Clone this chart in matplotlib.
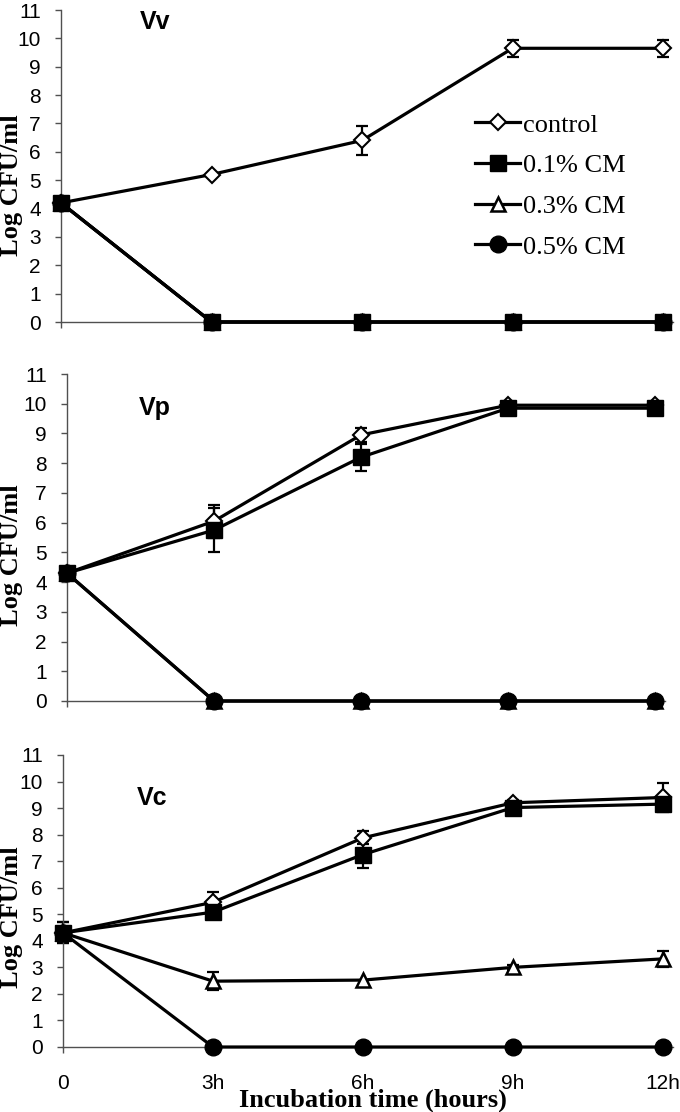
import matplotlib
matplotlib.use('Agg')
import matplotlib.pyplot as plt
from matplotlib.lines import Line2D

# Sampling times and labels
times = [0, 3, 6, 9, 12]
time_labels = ['0', '3h', '6h', '9h', '12h']
series_names = ['control', '0.1% CM', '0.3% CM', '0.5% CM']

# Vv
vv_control = [4.2, 5.2, 6.4, 9.65, 9.65]
vv_control_err = [0, 0, 0.5, 0.3, 0.3]
vv_cm01 = [4.2, 0, 0, 0, 0]
vv_cm01_err = [0, 0, 0, 0, 0]
vv_cm03 = [4.2, 0, 0, 0, 0]
vv_cm03_err = [0, 0, 0, 0, 0]
vv_cm05 = [4.2, 0, 0, 0, 0]
vv_cm05_err = [0, 0, 0, 0, 0]

# Vp
vp_control = [4.3, 6.05, 8.95, 9.95, 9.95]
vp_control_err = [0, 0.55, 0.25, 0, 0]
vp_cm01 = [4.3, 5.75, 8.2, 9.85, 9.85]
vp_cm01_err = [0, 0.75, 0.45, 0, 0]
vp_cm03 = [4.3, 0, 0, 0, 0]
vp_cm03_err = [0, 0, 0, 0, 0]
vp_cm05 = [4.3, 0, 0, 0, 0]
vp_cm05_err = [0, 0, 0, 0, 0]

# Vc
vc_control = [4.3, 5.45, 7.88, 9.2, 9.4]
vc_control_err = [0.4, 0.4, 0.25, 0.1, 0.55]
vc_cm01 = [4.3, 5.08, 7.25, 9.02, 9.15]
vc_cm01_err = [0.4, 0, 0.5, 0.1, 0.1]
vc_cm03 = [4.3, 2.48, 2.52, 3.0, 3.32]
vc_cm03_err = [0, 0.35, 0, 0.1, 0.3]
vc_cm05 = [4.3, 0, 0, 0, 0]
vc_cm05_err = [0, 0, 0, 0, 0]

W, H = 680, 1112
fig = plt.figure(figsize=(W / 100, H / 100), dpi=100)

# marker styles: control, 0.1%, 0.3%, 0.5%
styles = [
    dict(marker='D', ms=8, mfc='white', mec='black', mew=1.5),
    dict(marker='s', ms=12, mfc='black', mec='black', mew=1),
    dict(marker='^', ms=10, mfc='white', mec='black', mew=1.8),
    dict(marker='o', ms=12, mfc='black', mec='black', mew=1),
]
draw_order = [0, 2, 3, 1]  # squares end up on top
axis_col = '#505050'


def px_axes(left, top, bottom, x12):
    # x12 = pixel x of the 12h point
    per_h = (x12 - left) / 12.0
    xmax = 12.2
    width = per_h * xmax
    return fig.add_axes([left / W, (H - bottom) / H, width / W, (bottom - top) / H]), xmax


panels = [
    ('Vv', [vv_control, vv_cm01, vv_cm03, vv_cm05],
     [vv_control_err, vv_cm01_err, vv_cm03_err, vv_cm05_err], (61, 10, 322, 663), (155, 22), 185),
    ('Vp', [vp_control, vp_cm01, vp_cm03, vp_cm05],
     [vp_control_err, vp_cm01_err, vp_cm03_err, vp_cm05_err], (67, 374, 701, 655), (155, 408), 555),
    ('Vc', [vc_control, vc_cm01, vc_cm03, vc_cm05],
     [vc_control_err, vc_cm01_err, vc_cm03_err, vc_cm05_err], (63, 755, 1047, 663), (152, 798), 917),
]

for i, (name, vals, errs, box, title_xy, ylab_y) in enumerate(panels):
    ax, xmax = px_axes(*box)
    for k in draw_order:
        y = vals[k]
        e = errs[k]
        ex = [t for t, ee in zip(times, e) if ee > 0]
        ey = [v for v, ee in zip(y, e) if ee > 0]
        ee_ = [ee for ee in e if ee > 0]
        if ex:
            ax.errorbar(ex, ey, yerr=ee_, fmt='none', ecolor='black',
                        elinewidth=1.6, capsize=4, capthick=1.6, zorder=2 + k * 0.1, clip_on=False)
        ax.plot(times, y, color='black', lw=2.3, clip_on=False, zorder=3 + k * 0.1, **styles[k])

    ax.set_xlim(0, xmax)
    ax.set_ylim(0, 11)
    ax.set_yticks(range(0, 12))
    ax.set_xticks(times)
    for s in ['top', 'right']:
        ax.spines[s].set_visible(False)
    for s in ['left', 'bottom']:
        ax.spines[s].set_color(axis_col)
        ax.spines[s].set_linewidth(1)
    ax.tick_params(axis='y', direction='out', length=4.5, width=1, color=axis_col,
                   labelsize=15, pad=10)
    ax.tick_params(axis='x', direction='out', length=4.5, width=1, color=axis_col,
                   labelsize=15, pad=15)
    for lab in ax.get_yticklabels():
        lab.set_family('Liberation Sans')
    if i == 2:
        ax.set_xticklabels(time_labels, family='Liberation Sans')
    else:
        ax.set_xticklabels([])
    ax.patch.set_visible(False)

    fig.text(title_xy[0] / W, 1 - title_xy[1] / H, name, ha='center', va='center',
             fontsize=18, fontweight='bold', family='Liberation Sans')
    fig.text(12 / W, 1 - ylab_y / H, 'Log CFU/ml', rotation=90, ha='center', va='center',
             fontsize=19, fontweight='bold', family='Liberation Serif')

    if i == 0:
        handles = [Line2D([], [], color='black', lw=2.3, **styles[k]) for k in range(4)]
        fig.legend(handles, series_names, loc='upper left',
                   bbox_to_anchor=(462 / W, 1 - 100 / H), frameon=False,
                   prop={'family': 'Liberation Serif', 'size': 19},
                   handlelength=1.7, handletextpad=0.1, labelspacing=0.65, borderpad=0)

fig.text(373 / W, 1 - 1100 / H, 'Incubation time (hours)', ha='center', va='center',
         fontsize=19, fontweight='bold', family='Liberation Serif')

fig.savefig('out.png', dpi=100)
